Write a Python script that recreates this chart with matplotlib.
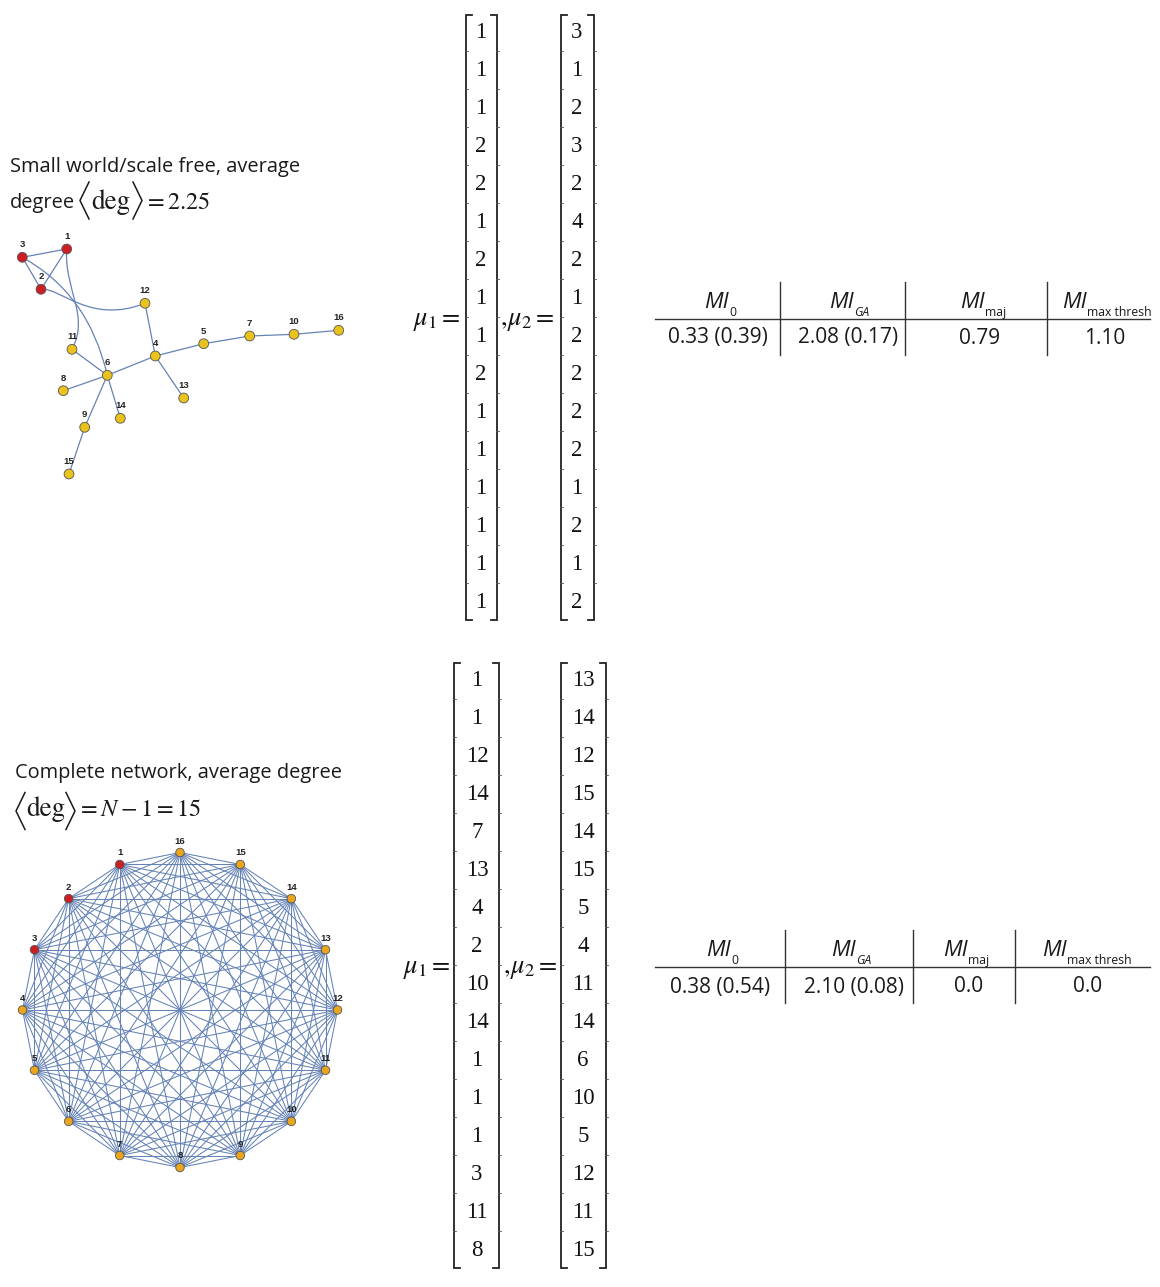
import matplotlib
matplotlib.use('Agg')
import matplotlib.pyplot as plt
from matplotlib.path import Path
from matplotlib.patches import PathPatch
import numpy as np

plt.rcParams['mathtext.fontset'] = 'custom'
plt.rcParams['mathtext.rm'] = 'Open Sans'
plt.rcParams['mathtext.it'] = 'Open Sans:italic'
plt.rcParams['mathtext.bf'] = 'Open Sans:bold'

# ---------------- data ----------------
# small-world / scale-free network (node layout in pixel units)
sw_nodes = list(range(1, 17))
sw_x = [66.7, 41.0, 22.3, 155.3, 203.7, 107.3, 249.7, 63.3, 84.7, 294.0, 72.0, 145.0, 183.7, 120.3, 69.0, 338.7]
sw_y = [249.0, 289.3, 257.3, 356.0, 343.7, 375.3, 336.0, 390.7, 427.3, 334.3, 349.3, 303.3, 398.0, 418.3, 474.0, 330.3]
sw_edges = [(1, 2), (1, 3), (2, 3), (12, 4), (4, 6), (4, 5), (5, 7), (7, 10), (10, 16),
            (4, 13), (6, 11), (6, 8), (6, 9), (6, 14), (9, 15)]
sw_curved_edges = [(3, 6), (2, 12), (1, 11)]
seed_nodes = [1, 2, 3]

# complete network
cn_nodes = list(range(1, 17))

# seed vectors
mu1_top = [1, 1, 1, 2, 2, 1, 2, 1, 1, 2, 1, 1, 1, 1, 1, 1]
mu2_top = [3, 1, 2, 3, 2, 4, 2, 1, 2, 2, 2, 2, 1, 2, 1, 2]
mu1_bot = [1, 1, 12, 14, 7, 13, 4, 2, 10, 14, 1, 1, 1, 3, 11, 8]
mu2_bot = [13, 14, 12, 15, 14, 15, 5, 4, 11, 14, 6, 10, 5, 12, 11, 15]

# tables
header_subs = ['0', 'GA', 'maj', 'max thresh']
header_sub_italic = [False, True, False, False]
table_top = ['0.33 (0.39)', '2.08 (0.17)', '0.79', '1.10']
table_bot = ['0.38 (0.54)', '2.10 (0.08)', '0.0', '0.0']

# ---------------- figure ----------------
W, H = 1160, 1287
fig = plt.figure(figsize=(W / 100, H / 100), dpi=100)
ax = fig.add_axes([0, 0, 1, 1])
ax.set_xlim(0, W)
ax.set_ylim(H, 0)
ax.axis('off')

EDGE = '#6583b6'
RED = '#cc1f24'
YEL = '#e9c21b'
ORA = '#eaa51e'
SANS = 'Open Sans'
STIX = 'STIXGeneral'
SERIF = 'Liberation Serif'
TXT = '#1a1a1a'


def angle_pair(xl, xr, ymid, half, w=9):
    ax.plot([xl + w, xl, xl + w], [ymid - half, ymid, ymid + half], color=TXT, lw=1.1,
            solid_joinstyle='miter')
    ax.plot([xr - w, xr, xr - w], [ymid - half, ymid, ymid + half], color=TXT, lw=1.1,
            solid_joinstyle='miter')


# ---------- captions ----------
ax.text(10, 172, 'Small world/scale free, average', fontsize=14.4, family=SANS, va='baseline', color=TXT)
ax.text(10, 208, 'degree', fontsize=14.4, family=SANS, va='baseline', color=TXT)
angle_pair(80, 142, 200.5, 18.5)
ax.text(111, 209, 'deg', fontsize=19.5, family=STIX, va='baseline', ha='center', color=TXT)
ax.text(144, 209, r'$=2.25$', fontsize=17.5, math_fontfamily='stix', va='baseline', ha='left', color=TXT)

ax.text(15, 778, 'Complete network, average degree', fontsize=14.4, family=SANS, va='baseline', color=TXT)
angle_pair(16, 75, 811, 18.5)
ax.text(45.5, 816, 'deg', fontsize=19.5, family=STIX, va='baseline', ha='center', color=TXT)
ax.text(77, 816, r'$= N - 1 = 15$', fontsize=17.5, math_fontfamily='stix', va='baseline', ha='left', color=TXT)

# ---------- small-world network ----------
pos = {n: (sw_x[i], sw_y[i]) for i, n in enumerate(sw_nodes)}
for a, b in sw_edges:
    ax.plot([pos[a][0], pos[b][0]], [pos[a][1], pos[b][1]], color=EDGE, lw=0.9, zorder=1)

ctrl = {
    (3, 6): [(88.6, 293.7)],
    (2, 12): [(60, 287), (90, 325)],
    (1, 11): [(64, 290), (90, 315)],
}
for a, b in sw_curved_edges:
    cps = ctrl[(a, b)]
    verts = [pos[a]] + cps + [pos[b]]
    codes = [Path.MOVETO] + ([Path.CURVE3] * 2 if len(cps) == 1 else [Path.CURVE4] * 3)
    ax.add_patch(PathPatch(Path(verts, codes), fc='none', ec=EDGE, lw=0.9, zorder=1))

cols = [RED if n in seed_nodes else YEL for n in sw_nodes]
ax.scatter(sw_x, sw_y, s=50, c=cols, edgecolors='#555555', linewidths=0.6, zorder=3)
for i, n in enumerate(sw_nodes):
    ax.text(sw_x[i], sw_y[i] - 12.5, str(n), fontsize=6.8, fontweight='bold', family='Liberation Sans',
            ha='center', va='center', color='#222222', zorder=4)

# ---------- complete network ----------
cx, cy, R = 180, 1010, 157.5
ang = np.deg2rad(90 - 22.5 * (16 - np.array(cn_nodes)))
cn_x = cx + R * np.cos(ang)
cn_y = cy - R * np.sin(ang)
for i in range(len(cn_nodes)):
    for j in range(i + 1, len(cn_nodes)):
        ax.plot([cn_x[i], cn_x[j]], [cn_y[i], cn_y[j]], color=EDGE, lw=0.75, zorder=1)
cols = [RED if n in seed_nodes else ORA for n in cn_nodes]
ax.scatter(cn_x, cn_y, s=38, c=cols, edgecolors='#555555', linewidths=0.6, zorder=3)
for i, n in enumerate(cn_nodes):
    ax.text(cn_x[i], cn_y[i] - 11.5, str(n), fontsize=6.8, fontweight='bold', family='Liberation Sans',
            ha='center', va='center', color='#222222', zorder=4)


# ---------- column vectors ----------
def draw_vector(vals, xc, xl, xr, y0, dy, top, bot):
    for k, v in enumerate(vals):
        ax.text(xc, y0 + k * dy, str(v), fontsize=16.5, family=SERIF, ha='center', va='center', color='#111111')
    for x, s in ((xl, 1), (xr, -1)):
        ax.plot([x + 6 * s, x, x, x + 6 * s], [top, top, bot, bot], color='#222222', lw=1.3,
                solid_joinstyle='miter', zorder=2)
        for k in range(1, len(vals)):
            yb = y0 + (k - 0.5) * dy
            ax.plot([x - 1.5, x + 1.5], [yb, yb], color='#555555', lw=0.6)


draw_vector(mu1_top, 481, 466, 497, 32, 38, 15, 620)
draw_vector(mu2_top, 577, 561, 594, 32, 38, 15, 620)
draw_vector(mu1_bot, 477, 454, 499, 680, 38, 663, 1268)
draw_vector(mu2_bot, 583, 561, 606, 680, 38, 663, 1268)

for (xa, xb, yy) in ((413, 500, 320), (403, 503, 968)):
    ax.text(xa, yy, r'$\mu_1 =$', fontsize=19, math_fontfamily='stix', va='center', ha='left', color='#111111')
    ax.text(xb, yy, r'$,\!\mu_2 =$', fontsize=19, math_fontfamily='stix', va='center', ha='left', color='#111111')


# ---------- tables ----------
def draw_table(vals, hy, ly, vy, seps, mi_left, vcent, ytop, ybot):
    ax.plot([655, 1150], [ly, ly], color='#333333', lw=1.0)
    for s in seps:
        ax.plot([s, s], [ytop, ybot], color='#333333', lw=1.0)
    for sub, it, x in zip(header_subs, header_sub_italic, mi_left):
        mi = ax.text(x, hy, 'MI', fontsize=16, family=SANS, style='italic', fontweight='medium',
                     ha='left', va='baseline', color=TXT)
        ax.annotate(sub, xy=(1, 0), xycoords=mi, xytext=(0.5, -2.0), textcoords='offset points',
                    fontsize=8.8, family=SANS, style='italic' if it else 'normal',
                    ha='left', va='baseline', color=TXT)
    for v, x in zip(vals, vcent):
        ax.text(x, vy, v, fontsize=15, family=SANS, ha='center', va='center', color=TXT)


draw_table(table_top, 308, 319, 338, [780, 905, 1047], [704, 829, 960, 1062], [718, 848.5, 980, 1105], 282, 355)
draw_table(table_bot, 956, 967, 987, [785, 913, 1015], [706, 831, 943, 1042], [720, 854, 969, 1088], 930, 1003)

fig.savefig('out.png', dpi=100)
